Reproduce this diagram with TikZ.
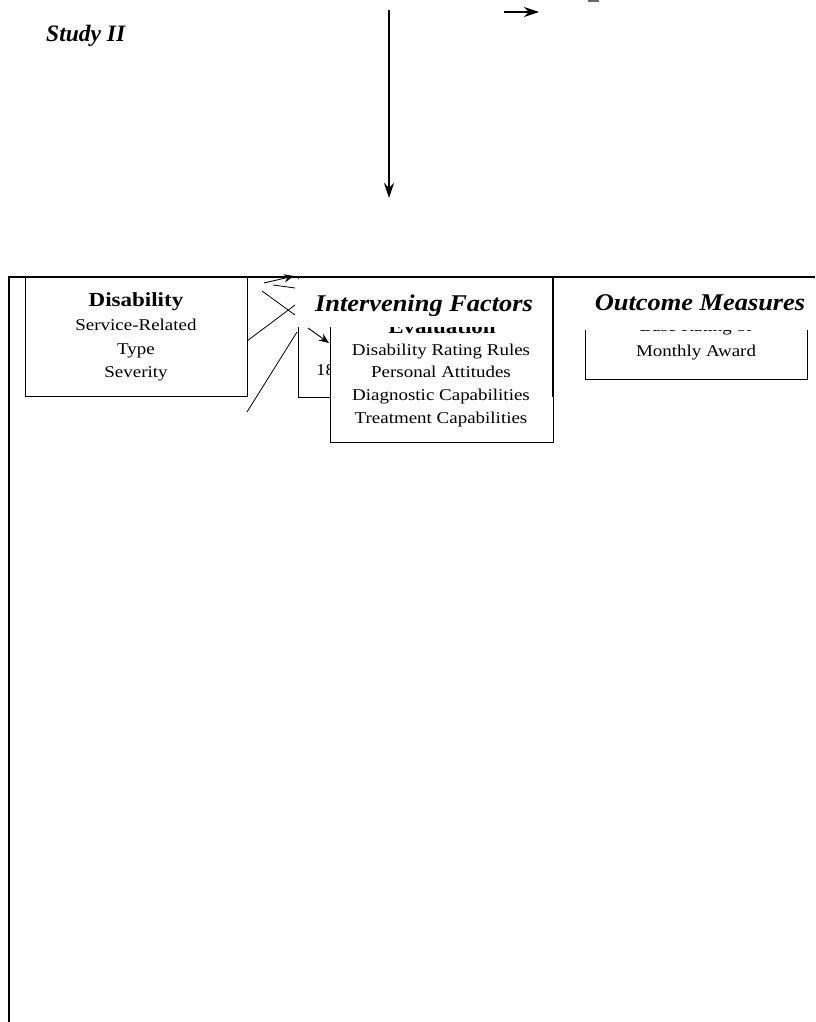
\documentclass[tikz,border=0pt]{standalone}
\usepackage{fontspec}
\setmainfont{Liberation Serif}
\newfontfamily\regw{Liberation Serif}[FakeStretch=1.15]
\newfontfamily\ttlw{Liberation Serif}[FakeStretch=1.1]
\usetikzlibrary{arrows.meta}
\begin{document}
\begin{tikzpicture}[x=1pt,y=-1pt,
  txt/.style={inner sep=0pt, anchor=base, font=\regw\fontsize{16.5}{18}\selectfont},
  btxt/.style={inner sep=0pt, anchor=base, font=\regw\fontsize{20}{22}\selectfont\bfseries},
  ttl/.style={inner sep=0pt, anchor=base, font=\ttlw\fontsize{24}{26}\selectfont\bfseries\itshape},
  box/.style={draw, line width=1pt, anchor=north west},
  cover/.style={fill=white, draw=none, inner sep=0pt, anchor=north west},
  conn/.style={line width=0.8pt},
  arr/.style={line width=0.9pt,-{Stealth[length=10pt,width=8pt]}},
  bigarr/.style={line width=1.3pt,-{Stealth[length=15pt,width=10pt]}}]
\useasboundingbox (0,0) rectangle (815,1022);
% title
\node[inner sep=0pt, anchor=base west, font=\fontsize{23.5}{25}\selectfont\bfseries\itshape] (study) at (46,42) {Study II};
% top arrows
\coordinate (vtop) at (389,10);
\coordinate (vbot) at (389,198);
\draw[bigarr] (vtop) -- (vbot);
\coordinate (hs) at (504,12);
\coordinate (he) at (539,12);
\draw[bigarr] (hs) -- (he);
\coordinate (frag1) at (588,1);
\coordinate (frag2) at (599,1);
\draw[line width=2pt, black!60] (frag1) -- (frag2);
% frame
\coordinate (fbl) at (9,1022);
\coordinate (ftl) at (9,277);
\coordinate (ftr) at (815,277);
\draw[line width=1.5pt] (fbl) -- (ftl) -- (ftr);
% Disability box
\node[box, minimum width=222pt, minimum height=119pt] (dis) at (25,277) {};
\node[btxt] (d1) at (136,306) {Disability};
\node[txt] (d2) at (136,330) {Service-Related};
\node[txt] (d3) at (136,354) {Type};
\node[txt] (d4) at (136,377) {Severity};
% mid (hidden) box
\node[box, minimum width=255pt, minimum height=120pt] (mid) at (298,277) {};
\node[txt, anchor=base west] (m18) at (316,375) {18};
% Evaluation box
\node[box, fill=white, minimum width=223pt, minimum height=142pt] (eval) at (330,300) {};
\node[btxt] (e0) at (442,333) {Evaluation};
\node[txt] (e1) at (441,355) {Disability Rating Rules};
\node[txt] (e2) at (441,377) {Personal Attitudes};
\node[txt] (e3) at (441,400) {Diagnostic Capabilities};
\node[txt] (e4) at (441,423) {Treatment Capabilities};
% Outcome box
\node[box, minimum width=222pt, minimum height=79pt] (out) at (585,300) {};
\node[txt] (o0) at (696,331.5) {Base Rating of};
\node[txt] (o1) at (696,356) {Monthly Award};
% covers for titles
\node[cover, minimum width=255pt, minimum height=48.5pt] (c1) at (297,278.5) {};
\node[cover, minimum width=230pt, minimum height=51pt] (c2) at (580,278.5) {};
\node[ttl] (itf) at (424,311) {Intervening Factors};
\node[ttl] (oms) at (700,310) {Outcome Measures};
% thick right edge
\coordinate (tk1) at (553,277);
\coordinate (tk2) at (553,397);
\draw[line width=2.4pt] (tk1) -- (tk2);
% connectors
\coordinate (a1) at (247,341);
\coordinate (b1) at (295,305);
\draw[conn] (a1) -- (b1);
\coordinate (a2) at (262,291);
\coordinate (b2) at (295,315);
\draw[conn] (a2) -- (b2);
\coordinate (a3) at (247,412);
\coordinate (b3) at (297,332);
\draw[conn] (a3) -- (b3);
\coordinate (a4) at (264,283);
\coordinate (b4) at (294,276);
\draw[arr] (a4) -- (b4);
\coordinate (a5) at (273,285);
\coordinate (b5) at (295,288);
\draw[conn] (a5) -- (b5);
\coordinate (a6) at (308,328);
\coordinate (b6) at (329,343);
\draw[arr] (a6) -- (b6);
\end{tikzpicture}
\end{document}
